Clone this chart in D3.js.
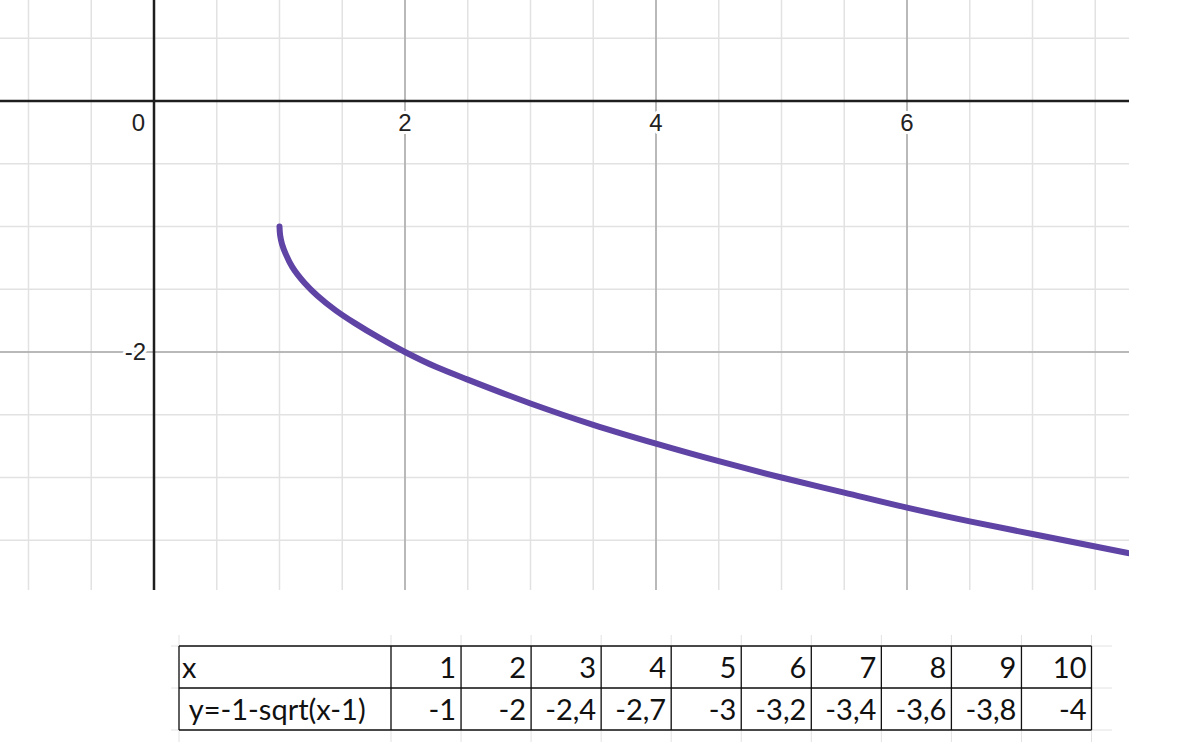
<!DOCTYPE html>
<html>
<head>
<meta charset="utf-8">
<script src="https://cdn.jsdelivr.net/npm/d3@7"></script>
<style>
  html, body { margin: 0; padding: 0; background: #fff; }
  svg { display: block; }
</style>
</head>
<body>
<svg id="chart" width="1180" height="754"></svg>
<script>
// ---- data ----
const xMajorTicks = [0, 2, 4, 6];
const yMajorTicks = [-2];
const xLabelTicks = [0, 2, 4, 6];
const yLabelTicks = [-2];
const curveX = [1, 1.005, 1.02, 1.05, 1.1, 1.2, 1.3, 1.45, 1.6, 1.8, 2, 2.25, 2.5, 3, 3.5, 4, 4.5, 5, 5.5, 6, 6.5, 7, 7.5, 8];
const curveY = [-1, -1.07, -1.14, -1.22, -1.32, -1.45, -1.55, -1.67, -1.77, -1.89, -2, -2.12, -2.22, -2.41, -2.58, -2.73, -2.87, -3, -3.12, -3.24, -3.35, -3.45, -3.55, -3.65];
const tableXHeader = "x";
const tableYHeader = " y=-1-sqrt(x-1)";
const tableX = [1, 2, 3, 4, 5, 6, 7, 8, 9, 10];
const tableY = [-1, -2, -2.4, -2.7, -3, -3.2, -3.4, -3.6, -3.8, -4];

// ---- layout ----
const svg = d3.select("#chart");
const plotW = 1129, plotH = 590;
const unit = 125.5, ox = 154, oy = 101;
const x = d3.scaleLinear().domain([-ox / unit, (plotW - ox) / unit]).range([0, plotW]);
const y = d3.scaleLinear().domain([oy / unit, -(plotH - oy) / unit]).range([0, plotH]);

svg.append("defs").append("clipPath").attr("id", "plotClip")
  .append("rect").attr("x", 0).attr("y", 0).attr("width", plotW).attr("height", plotH);

const g = svg.append("g").attr("clip-path", "url(#plotClip)");

// minor grid (every 0.5)
const xMinor = d3.range(Math.ceil(x.domain()[0] * 2) / 2, x.domain()[1], 0.5);
const yMinor = d3.range(Math.ceil(y.domain()[1] * 2) / 2, y.domain()[0], 0.5);
g.append("g").selectAll("line").data(xMinor).join("line")
  .attr("x1", d => x(d)).attr("x2", d => x(d)).attr("y1", 0).attr("y2", plotH)
  .attr("stroke", "#e2e2e2").attr("stroke-width", 1.5);
g.append("g").selectAll("line").data(yMinor).join("line")
  .attr("y1", d => y(d)).attr("y2", d => y(d)).attr("x1", 0).attr("x2", plotW)
  .attr("stroke", "#e2e2e2").attr("stroke-width", 1.5);

// major grid
g.append("g").selectAll("line").data(xMajorTicks.filter(d => d !== 0)).join("line")
  .attr("x1", d => x(d)).attr("x2", d => x(d)).attr("y1", 0).attr("y2", plotH)
  .attr("stroke", "#a8a8a8").attr("stroke-width", 1.5);
g.append("g").selectAll("line").data(yMajorTicks).join("line")
  .attr("y1", d => y(d)).attr("y2", d => y(d)).attr("x1", 0).attr("x2", plotW)
  .attr("stroke", "#a8a8a8").attr("stroke-width", 1.5);

// labels with white halo
const labFont = "'Liberation Sans', Arial, sans-serif";
const lab = g.append("g").attr("font-family", labFont).attr("font-size", 24).attr("fill", "#222")
  .attr("stroke", "#fff").attr("stroke-width", 6).attr("paint-order", "stroke").attr("stroke-linejoin", "round");
lab.selectAll("text.xl").data(xLabelTicks).join("text").attr("class", "xl")
  .attr("x", d => d === 0 ? x(d) - 9 : x(d))
  .attr("y", y(0) + 30)
  .attr("text-anchor", d => d === 0 ? "end" : "middle")
  .text(d => d);
lab.selectAll("text.yl").data(yLabelTicks).join("text").attr("class", "yl")
  .attr("x", x(0) - 8)
  .attr("y", d => y(d) + 8)
  .attr("text-anchor", "end")
  .text(d => d);

// axes
g.append("line").attr("x1", 0).attr("x2", plotW).attr("y1", y(0)).attr("y2", y(0))
  .attr("stroke", "#1e1e1e").attr("stroke-width", 2.5);
g.append("line").attr("x1", x(0)).attr("x2", x(0)).attr("y1", 0).attr("y2", plotH)
  .attr("stroke", "#1e1e1e").attr("stroke-width", 2.5);

// curve
const pts = curveX.map((v, i) => [v, curveY[i]]);
g.append("path").datum(pts)
  .attr("d", d3.line().x(d => x(d[0])).y(d => y(d[1])).curve(d3.curveMonotoneY))
  .attr("fill", "none").attr("stroke", "#5f43a5").attr("stroke-width", 6)
  .attr("stroke-linecap", "round").attr("stroke-linejoin", "round");

// ---- table ----
const tLeft = 179, tTop = 646, rowH = 42;
const col = d3.scaleLinear().domain([0, tableX.length]).range([391, 1091.5]);
const rows = [tTop, tTop + rowH, tTop + 2 * rowH];
const edges = [tLeft].concat(d3.range(0, tableX.length + 1).map(i => col(i)));
const tg = svg.append("g");

// faint spreadsheet gridlines
tg.append("g").selectAll("line").data(rows).join("line")
  .attr("x1", 171).attr("x2", 1112).attr("y1", d => d).attr("y2", d => d)
  .attr("stroke", "#e2e2e2").attr("stroke-width", 1);
tg.append("g").selectAll("line").data(edges).join("line")
  .attr("x1", d => d).attr("x2", d => d).attr("y1", 635).attr("y2", 742)
  .attr("stroke", "#e2e2e2").attr("stroke-width", 1);

// borders
tg.append("g").selectAll("line").data(rows).join("line")
  .attr("x1", tLeft).attr("x2", col(tableX.length)).attr("y1", d => d).attr("y2", d => d)
  .attr("stroke", "#111").attr("stroke-width", 1.3);
tg.append("g").selectAll("line").data(edges).join("line")
  .attr("x1", d => d).attr("x2", d => d).attr("y1", rows[0]).attr("y2", rows[2])
  .attr("stroke", "#111").attr("stroke-width", 1.3);

const tFont = "Lato, 'Open Sans', sans-serif";
const tt = tg.append("g").attr("font-family", tFont).attr("font-size", 29).attr("fill", "#111");
tt.append("text").attr("x", tLeft + 3).attr("y", rows[0] + 32).text(tableXHeader);
tt.append("text").attr("x", tLeft + 3).attr("y", rows[1] + 32).attr("xml:space", "preserve").style("white-space", "pre").text(tableYHeader);
tt.selectAll("text.tx").data(tableX).join("text").attr("class", "tx")
  .attr("x", (d, i) => col(i + 1) - 5).attr("y", rows[0] + 32).attr("text-anchor", "end")
  .text(d => d);
tt.selectAll("text.ty").data(tableY).join("text").attr("class", "ty")
  .attr("x", (d, i) => col(i + 1) - 5).attr("y", rows[1] + 32).attr("text-anchor", "end")
  .text(d => String(d).replace(".", ","));
</script>
</body>
</html>
